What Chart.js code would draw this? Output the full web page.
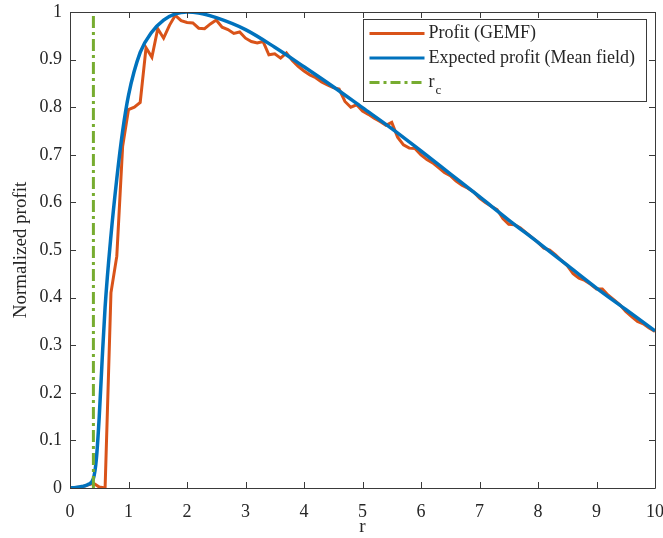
<!DOCTYPE html>
<html>
<head>
<meta charset="utf-8">
<script src="https://cdn.jsdelivr.net/npm/chart.js@4.4.1/dist/chart.umd.min.js"></script>
<style>
  html, body { margin: 0; padding: 0; background: #fff; }
  #wrap { width: 663px; height: 538px; position: relative; }
</style>
</head>
<body>
<div id="wrap"><canvas id="profitChart"></canvas></div>
<script>
// GEMF simulation (orange)
const gemfR = [0, 0.1, 0.2, 0.3, 0.4, 0.5, 0.6, 0.7, 0.8, 0.9, 1.0, 1.1, 1.2, 1.3, 1.4, 1.5, 1.6, 1.7, 1.8, 1.9,
  2.0, 2.1, 2.2, 2.3, 2.4, 2.5, 2.6, 2.7, 2.8, 2.9, 3.0, 3.1, 3.2, 3.3, 3.4, 3.5, 3.6, 3.7, 3.8, 3.9,
  4.0, 4.1, 4.2, 4.3, 4.4, 4.5, 4.6, 4.7, 4.8, 4.9, 5.0, 5.1, 5.2, 5.3, 5.4, 5.5, 5.6, 5.7, 5.8, 5.9,
  6.0, 6.1, 6.2, 6.3, 6.4, 6.5, 6.6, 6.7, 6.8, 6.9, 7.0, 7.1, 7.2, 7.3, 7.4, 7.5, 7.6, 7.7, 7.8, 7.9,
  8.0, 8.1, 8.2, 8.3, 8.4, 8.5, 8.6, 8.7, 8.8, 8.9, 9.0, 9.1, 9.2, 9.3, 9.4, 9.5, 9.6, 9.7, 9.8, 9.9, 10.0];
const gemfProfit = [0, 0.001, 0.002, 0.006, 0.01, 0.002, 0.0, 0.41, 0.487, 0.718, 0.795, 0.80, 0.81, 0.925, 0.905, 0.965, 0.945, 0.972, 0.993, 0.982,
  0.978, 0.977, 0.966, 0.965, 0.975, 0.983, 0.968, 0.963, 0.955, 0.958, 0.945, 0.938, 0.935, 0.938, 0.91, 0.912, 0.903, 0.914, 0.898, 0.886,
  0.876, 0.868, 0.862, 0.853, 0.847, 0.841, 0.838, 0.812, 0.80, 0.805, 0.792, 0.785, 0.777, 0.77, 0.762, 0.768, 0.737, 0.721, 0.714, 0.713,
  0.70, 0.69, 0.683, 0.673, 0.663, 0.656, 0.645, 0.636, 0.63, 0.622, 0.609, 0.60, 0.592, 0.585, 0.566, 0.554, 0.553, 0.546, 0.536, 0.526,
  0.516, 0.504, 0.50, 0.49, 0.478, 0.467, 0.45, 0.441, 0.436, 0.428, 0.418, 0.418, 0.405, 0.395, 0.385, 0.371, 0.36, 0.35, 0.345, 0.336, 0.329];

// mean field (blue)
const mfR = [0, 0.1, 0.2, 0.3, 0.4, 0.45, 0.5, 0.55, 0.6, 0.7, 0.8, 0.9, 1.0, 1.2, 1.4, 1.6, 1.8, 2.0, 2.2, 2.5,
  3.0, 3.5, 4.0, 4.5, 5.0, 5.5, 6.0, 6.5, 7.0, 7.5, 8.0, 8.5, 9.0, 9.5, 10.0];
const mfProfit = [0, 0.001, 0.003, 0.007, 0.02, 0.06, 0.15, 0.27, 0.38, 0.53, 0.65, 0.75, 0.825, 0.915, 0.958, 0.983, 0.996, 1.0, 0.998, 0.988,
  0.963, 0.926, 0.885, 0.843, 0.799, 0.755, 0.708, 0.66, 0.612, 0.563, 0.516, 0.468, 0.42, 0.375, 0.33];

// critical r
const rcValue = 0.4;
const rcSpan = [0, 1];

const xTicks = [0, 1, 2, 3, 4, 5, 6, 7, 8, 9, 10];
const yTicks = [0, 0.1, 0.2, 0.3, 0.4, 0.5, 0.6, 0.7, 0.8, 0.9, 1];

const FONT = "'Liberation Serif', 'Times New Roman', serif";
const TEXT = '#262626';
const AXIS = '#3a3a3a';

const toXY = (xs, ys) => xs.map((x, i) => ({ x: x, y: ys[i] }));

const legendItems = [
  { label: 'Profit (GEMF)', color: '#D95319', dash: [] },
  { label: 'Expected profit (Mean field)', color: '#0072BD', dash: [] },
  { label: 'r', sub: 'c', color: '#77AC30', dash: [10, 4, 3, 4] }
];

// inward ticks + box, MATLAB style
const boxPlugin = {
  id: 'box',
  afterDatasetsDraw(chart) {
    const ctx = chart.ctx;
    const a = chart.chartArea;
    const xs = chart.scales.x, ys = chart.scales.y;
    ctx.save();
    ctx.strokeStyle = AXIS;
    ctx.lineWidth = 1;
    ctx.beginPath();
    ctx.rect(Math.round(a.left) + 0.5, Math.round(a.top) + 0.5, Math.round(a.right - a.left), Math.round(a.bottom - a.top));
    ctx.stroke();
    const len = 6;
    ctx.beginPath();
    xTicks.forEach(v => {
      const px = Math.round(xs.getPixelForValue(v)) + 0.5;
      ctx.moveTo(px, a.bottom); ctx.lineTo(px, a.bottom - len);
      ctx.moveTo(px, a.top); ctx.lineTo(px, a.top + len);
    });
    yTicks.forEach(v => {
      const py = Math.round(ys.getPixelForValue(v)) + 0.5;
      ctx.moveTo(a.left, py); ctx.lineTo(a.left + len, py);
      ctx.moveTo(a.right, py); ctx.lineTo(a.right - len, py);
    });
    ctx.stroke();
    ctx.restore();
  },
  afterDraw(chart) {
    const ctx = chart.ctx;
    const a = chart.chartArea;
    const bx = Math.round(a.right - 292) + 0.5, by = Math.round(a.top + 7) + 0.5;
    const bw = 283, bh = 82;
    ctx.save();
    ctx.fillStyle = '#fff';
    ctx.fillRect(bx, by, bw, bh);
    ctx.strokeStyle = AXIS;
    ctx.lineWidth = 1;
    ctx.strokeRect(bx, by, bw, bh);
    ctx.textBaseline = 'middle';
    ctx.fillStyle = TEXT;
    legendItems.forEach((it, i) => {
      const y = by + 14 + i * 24.5;
      ctx.strokeStyle = it.color;
      ctx.lineWidth = 3;
      ctx.setLineDash(it.dash);
      ctx.beginPath();
      ctx.moveTo(bx + 6, y);
      ctx.lineTo(bx + 61, y);
      ctx.stroke();
      ctx.setLineDash([]);
      ctx.font = '18px ' + FONT;
      ctx.fillText(it.label, bx + 65, y);
      if (it.sub) {
        const w = ctx.measureText(it.label).width;
        ctx.font = '13px ' + FONT;
        ctx.fillText(it.sub, bx + 65 + w + 1, y + 8);
      }
    });
    ctx.restore();
  }
};

new Chart(document.getElementById('profitChart'), {
  type: 'line',
  data: {
    datasets: [
      {
        label: 'Profit (GEMF)',
        data: toXY(gemfR, gemfProfit),
        borderColor: '#D95319',
        borderWidth: 3,
        pointRadius: 0,
        tension: 0,
        order: 3
      },
      {
        label: 'Expected profit (Mean field)',
        data: toXY(mfR, mfProfit),
        borderColor: '#0072BD',
        borderWidth: 3.5,
        pointRadius: 0,
        cubicInterpolationMode: 'monotone',
        order: 2
      },
      {
        label: 'r_c',
        data: rcSpan.map(v => ({ x: rcValue, y: v })),
        borderColor: '#77AC30',
        borderWidth: 3,
        borderDash: [12, 4, 3, 4],
        pointRadius: 0,
        order: 1
      }
    ]
  },
  options: {
    responsive: true,
    maintainAspectRatio: false,
    animation: false,
    layout: { padding: { top: 12, right: 8, left: 0, bottom: 0 } },
    plugins: {
      legend: { display: false },
      tooltip: { enabled: false }
    },
    scales: {
      x: {
        type: 'linear',
        min: 0,
        max: 10,
        afterFit: s => { s.height = 50; s.paddingLeft = 0; s.paddingRight = 0; },
        afterBuildTicks: s => { s.ticks = xTicks.map(v => ({ value: v })); },
        grid: { display: false, drawTicks: false },
        border: { display: false },
        ticks: { padding: 13, color: TEXT, font: { family: FONT, size: 18 }, maxRotation: 0 },
        title: { display: true, text: 'r', color: TEXT, font: { family: FONT, size: 19 }, padding: { top: -2, bottom: 0 } }
      },
      y: {
        type: 'linear',
        min: 0,
        max: 1,
        afterFit: s => { s.width = 70; s.paddingTop = 0; s.paddingBottom = 0; },
        afterBuildTicks: s => { s.ticks = yTicks.map(v => ({ value: v })); },
        grid: { display: false, drawTicks: false },
        border: { display: false },
        ticks: {
          padding: 8,
          color: TEXT,
          font: { family: FONT, size: 18 },
          callback: v => String(Number(v.toFixed(1)))
        },
        title: { display: true, text: 'Normalized profit', color: TEXT, font: { family: FONT, size: 19 }, padding: { top: 10, bottom: 0 } }
      }
    }
  },
  plugins: [boxPlugin]
});
</script>
</body>
</html>
